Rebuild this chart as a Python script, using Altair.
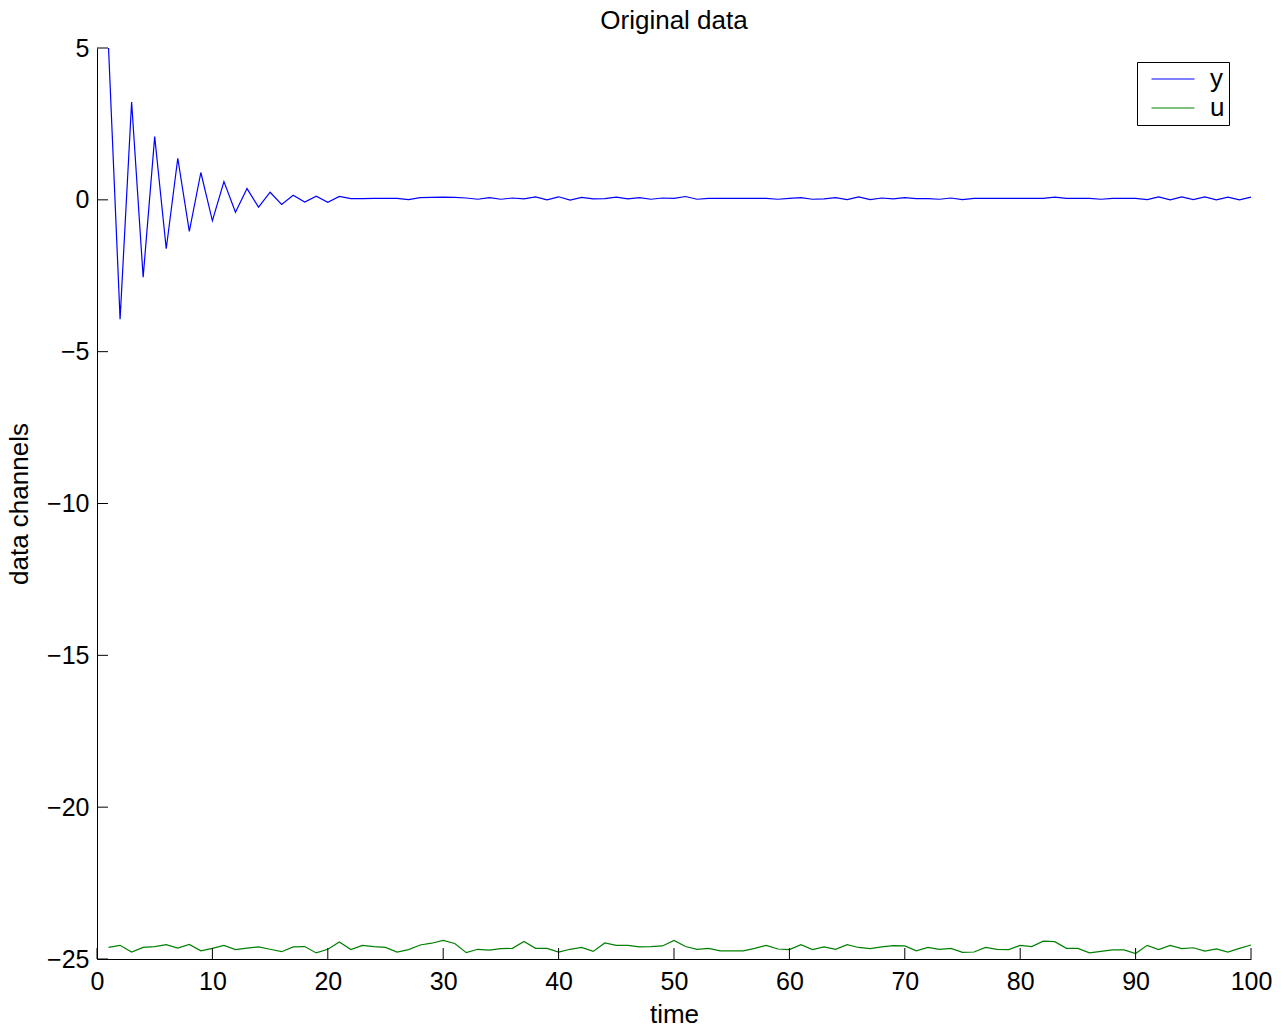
import altair as alt
import pandas as pd

time = list(range(1, 101))

y_vals = [
    5.00, -3.93, 3.22, -2.55, 2.08, -1.61, 1.37, -1.04, 0.90, -0.69,
    0.60, -0.41, 0.37, -0.24, 0.25, -0.15, 0.15, -0.07, 0.12, -0.08,
    0.11, 0.04, 0.04, 0.05, 0.05, 0.05, 0.01, 0.07, 0.08, 0.09,
    0.08, 0.06, 0.02, 0.07, 0.02, 0.06, 0.03, 0.10, 0.00, 0.10,
    -0.01, 0.08, 0.03, 0.04, 0.09, 0.03, 0.07, 0.02, 0.06, 0.05,
    0.11, 0.02, 0.05, 0.05, 0.05, 0.05, 0.05, 0.05, 0.02, 0.05,
    0.07, 0.02, 0.03, 0.07, 0.01, 0.10, 0.01, 0.06, 0.03, 0.07,
    0.04, 0.04, 0.02, 0.06, 0.01, 0.05, 0.05, 0.05, 0.05, 0.05,
    0.05, 0.05, 0.09, 0.05, 0.05, 0.05, 0.02, 0.05, 0.05, 0.05,
    0.01, 0.10, 0.00, 0.10, 0.01, 0.10, 0.00, 0.09, 0.00, 0.09,
]

u_vals = [
    -24.62, -24.55, -24.77, -24.62, -24.59, -24.53, -24.64, -24.52, -24.73, -24.65,
    -24.55, -24.69, -24.64, -24.60, -24.68, -24.76, -24.60, -24.59, -24.80, -24.68,
    -24.44, -24.69, -24.55, -24.59, -24.62, -24.77, -24.69, -24.54, -24.48, -24.39,
    -24.49, -24.79, -24.68, -24.71, -24.66, -24.65, -24.42, -24.65, -24.65, -24.77,
    -24.68, -24.62, -24.75, -24.47, -24.55, -24.55, -24.60, -24.59, -24.57, -24.39,
    -24.59, -24.68, -24.65, -24.73, -24.73, -24.73, -24.65, -24.55, -24.67, -24.69,
    -24.53, -24.69, -24.60, -24.68, -24.53, -24.62, -24.66, -24.60, -24.56, -24.57,
    -24.73, -24.62, -24.68, -24.65, -24.78, -24.77, -24.62, -24.68, -24.69, -24.55,
    -24.59, -24.41, -24.43, -24.65, -24.65, -24.80, -24.75, -24.70, -24.70, -24.82,
    -24.55, -24.69, -24.55, -24.66, -24.63, -24.74, -24.67, -24.77, -24.65, -24.54,
]

series_names = ["y", "u"]
series_colors = ["#0000ff", "#008000"]
x_ticks = [0, 10, 20, 30, 40, 50, 60, 70, 80, 90, 100]
y_ticks = [-25, -20, -15, -10, -5, 0, 5]

W, H = 1154, 911
FONT = "Liberation Sans"

df = pd.DataFrame({
    "time": time + time,
    "value": y_vals + u_vals,
    "channel": ["y"] * len(time) + ["u"] * len(time),
})

xscale = alt.Scale(domain=[0, 100], nice=False, zero=False)
yscale = alt.Scale(domain=[-25, 5], nice=False, zero=False)

lines = alt.Chart(df).mark_line(strokeWidth=1.2).encode(
    x=alt.X("time:Q", scale=xscale,
            axis=alt.Axis(values=x_ticks, title="time", titleY=55,
                          titleBaseline="middle", labelFlush=False)),
    y=alt.Y("value:Q", scale=yscale,
            axis=alt.Axis(values=y_ticks, title="data channels", titleX=-78,
                          titleY=H / 2, titleBaseline="middle", titleAngle=270,
                          labelFlush=False)),
    color=alt.Color("channel:N",
                    scale=alt.Scale(domain=series_names, range=series_colors),
                    legend=alt.Legend(title=None, orient="none", legendX=1040,
                                      legendY=14,
                                      labelExpr="datum.label + '\u00a0\u00a0'")),
    order=alt.Order("time:Q"),
)

xt = alt.Chart(pd.DataFrame({"t": x_ticks})).mark_rule(color="black", strokeWidth=1).encode(
    x=alt.X("t:Q", scale=xscale),
    y=alt.value(H),
    y2=alt.value(H - 11),
)
yt = alt.Chart(pd.DataFrame({"v": y_ticks})).mark_rule(color="black", strokeWidth=1).encode(
    y=alt.Y("v:Q", scale=yscale),
    x=alt.value(0),
    x2=alt.value(11),
)

chart = alt.layer(lines, xt, yt).properties(
    width=W, height=H,
    title=alt.TitleParams("Original data", anchor="middle", fontSize=26,
                          font=FONT, fontWeight="normal", color="black",
                          baseline="alphabetic", offset=6, dy=25),
    autosize=alt.AutoSizeParams(type="none"),
    padding={"left": 97, "top": 48, "right": 34, "bottom": 69},
).configure_view(stroke=None).configure_axis(
    grid=False, ticks=False, domainColor="black", domainWidth=1,
    labelFont=FONT, labelFontSize=25, labelColor="black", labelPadding=8,
    titleFont=FONT, titleFontSize=26, titleFontWeight="normal", titleColor="black",
).configure_axisX(labelPadding=10).configure_legend(
    strokeColor="black", fillColor="white", padding=4, symbolType="M-2,0H2",
    symbolSize=462, symbolStrokeWidth=1.2, labelFont=FONT, labelFontSize=26,
    labelColor="black", labelOffset=24, symbolOffset=19, rowPadding=3,
)

chart.save("out.html", embed_options={"renderer": "svg", "actions": False})
